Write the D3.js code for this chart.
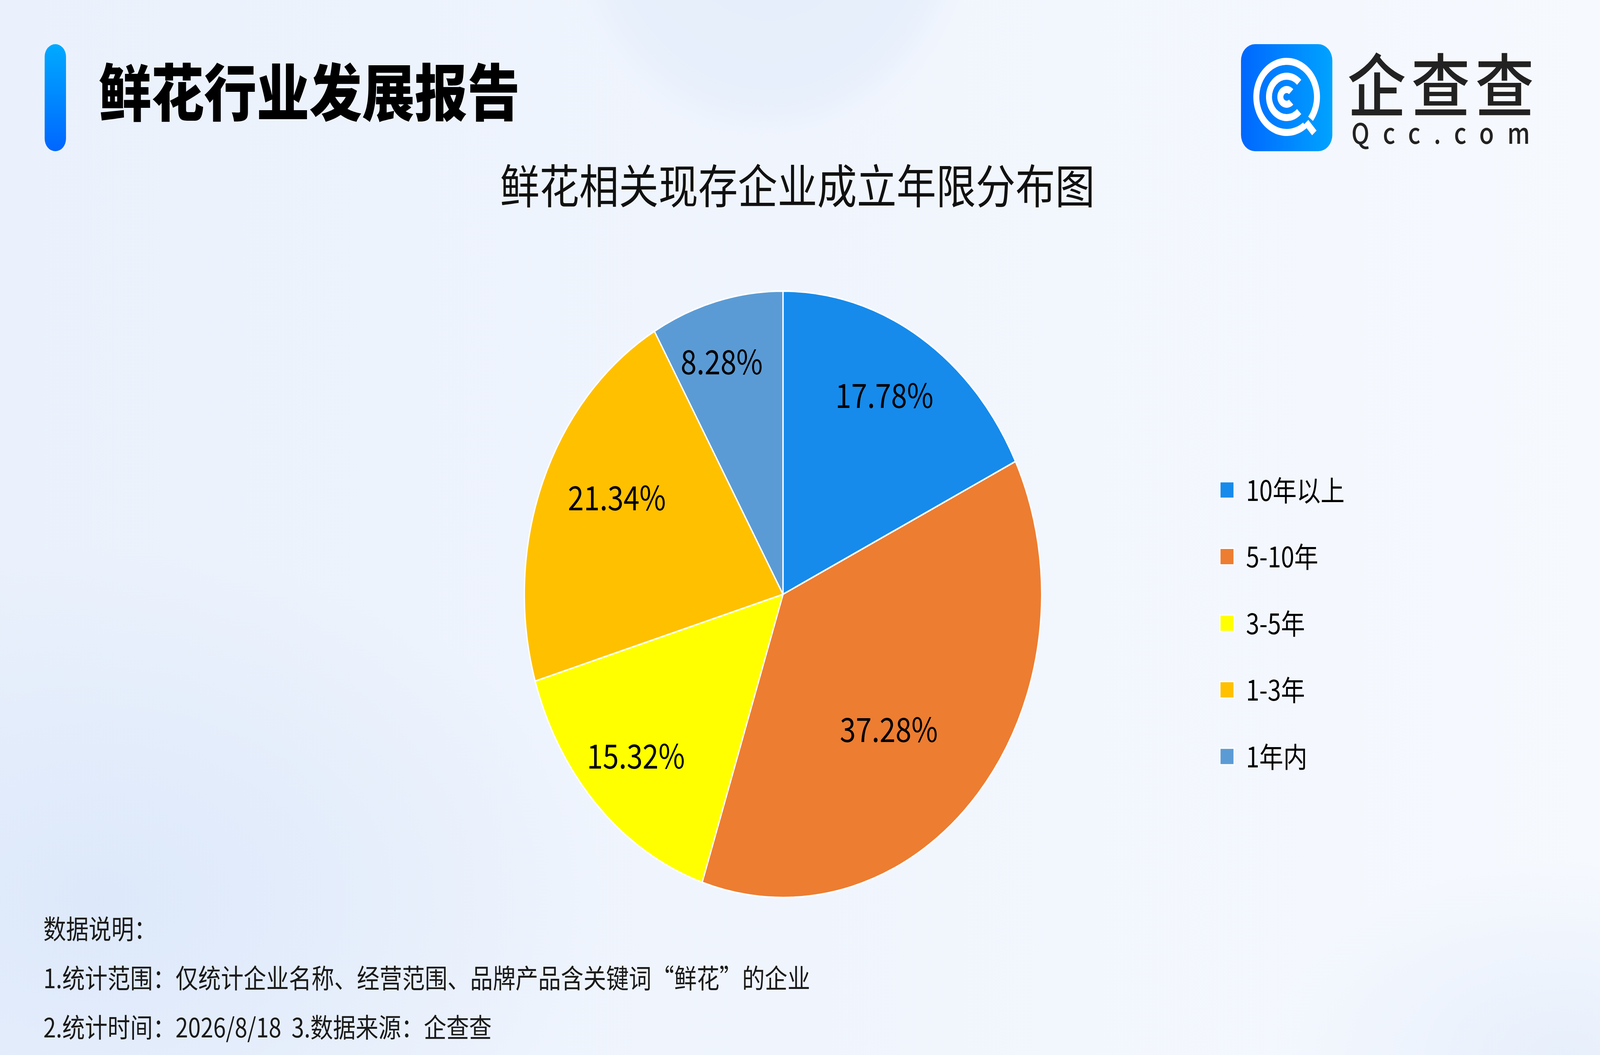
<!DOCTYPE html>
<html>
<head>
<meta charset="utf-8">
<script src="https://cdn.jsdelivr.net/npm/d3@7"></script>
<style>
  html, body { margin: 0; padding: 0; background: #f1f5fd; overflow: hidden; width: 100%; height: 100%; }
  svg { display: block; width: 100vw; height: 100vh; }
  text { font-family: "Noto Sans CJK SC", "Noto Sans", sans-serif; white-space: pre; }
</style>
</head>
<body>
<div id="chart"></div>
<script>
// data
var categories = ['10年以上', '5-10年', '3-5年', '1-3年', '1年内'];
var shares = [17.78, 37.28, 15.32, 21.34, 8.28];
var colours = ['#168beb', '#ed7d31', '#ffff00', '#ffc000', '#5b9bd5'];
// where each % label sits: part of the radius, and turn (deg) off the slice middle
var labelPos = [0.77, 0.60, 0.775, 0.72, 0.81];
var labelTurn = [-1.4, 5.9, 1.4, 5.1, -2.1];

var notes = [
  '数据说明：',
  '1.统计范围：仅统计企业名称、经营范围、品牌产品含关键词“鲜花”的企业',
  '2.统计时间：2026/8/18\u00a0\u00a03.数据来源：企查查'
];

var W = 4800, H = 2700;

// the drawing is laid out on a 4800x2700 board and stretched to the window
var svg = d3.select('#chart').append('svg')
    .attr('viewBox', '0 0 ' + W + ' ' + H)
    .attr('preserveAspectRatio', 'none');

var defs = svg.append('defs');

// background
var bg = defs.append('linearGradient').attr('id', 'bg')
    .attr('x1', 0).attr('y1', 0).attr('x2', 1).attr('y2', 0);
bg.append('stop').attr('offset', 0).attr('stop-color', '#eaf1fc');
bg.append('stop').attr('offset', 1).attr('stop-color', '#f6f9fe');

var blob = defs.append('radialGradient').attr('id', 'blob');
blob.append('stop').attr('offset', 0).attr('stop-color', '#dbe7fa').attr('stop-opacity', 0.9);
blob.append('stop').attr('offset', 1).attr('stop-color', '#dbe7fa').attr('stop-opacity', 0);

var disc = defs.append('radialGradient').attr('id', 'disc');
disc.append('stop').attr('offset', 0).attr('stop-color', '#e4edfb');
disc.append('stop').attr('offset', 0.85).attr('stop-color', '#e8f0fc');
disc.append('stop').attr('offset', 1).attr('stop-color', '#eef3fd').attr('stop-opacity', 0);

defs.append('filter').attr('id', 'soft')
    .attr('x', '-20%').attr('y', '-20%').attr('width', '140%').attr('height', '140%')
  .append('feGaussianBlur').attr('stdDeviation', 25);

svg.append('rect').attr('width', W).attr('height', H).attr('fill', 'url(#bg)');
svg.append('ellipse')
    .attr('cx', 300).attr('cy', 2300).attr('rx', 1500).attr('ry', 900)
    .attr('fill', 'url(#blob)');
svg.append('ellipse')
    .attr('cx', 4700).attr('cy', 2700).attr('rx', 900).attr('ry', 500)
    .attr('fill', 'url(#blob)').attr('opacity', 0.6);
svg.append('circle')
    .attr('cx', 2307).attr('cy', -260).attr('r', 630)
    .attr('fill', 'url(#disc)')
    .attr('filter', 'url(#soft)');

// header bar + title
var barGrad = defs.append('linearGradient').attr('id', 'bar')
    .attr('x1', 0).attr('y1', 0).attr('x2', 0).attr('y2', 1);
barGrad.append('stop').attr('offset', 0).attr('stop-color', '#00aaff');
barGrad.append('stop').attr('offset', 1).attr('stop-color', '#0066ff');

svg.append('rect')
    .attr('x', 134).attr('y', 113)
    .attr('width', 64).attr('height', 274)
    .attr('rx', 32)
    .attr('fill', 'url(#bar)');

svg.append('text')
    .attr('x', 296).attr('y', 227)
    .attr('dominant-baseline', 'central')
    .attr('font-size', 158)
    .attr('font-weight', 900)
    .attr('fill', '#000')
    .text('鲜花行业发展报告');

// logo
var logo = svg.append('g').attr('transform', 'translate(3723,113)');
var logoGrad = defs.append('linearGradient').attr('id', 'logo')
    .attr('x1', 0).attr('y1', 0).attr('x2', 1).attr('y2', 0);
logoGrad.append('stop').attr('offset', 0).attr('stop-color', '#0067ff');
logoGrad.append('stop').attr('offset', 1).attr('stop-color', '#00a3ff');

logo.append('rect')
    .attr('width', 274).attr('height', 274).attr('rx', 42)
    .attr('fill', 'url(#logo)');

var rad = Math.PI / 180;
var rings = [
  { r0: 82, r1: 100, a0: 143, a1: 488 },
  { r0: 44, r1: 62, a0: 135, a1: 405 },
  { r0: 10, r1: 28, a0: 135, a1: 405 }
];
var ringArc = d3.arc();
logo.append('g').attr('transform', 'translate(137,135)')
  .selectAll('path')
  .data(rings)
  .join('path')
    .attr('d', function(d) {
      return ringArc({ innerRadius: d.r0, outerRadius: d.r1,
                       startAngle: d.a0 * rad, endAngle: d.a1 * rad });
    })
    .attr('fill', '#fff');
// tail of the Q
logo.append('line')
    .attr('x1', 137 + 87 * Math.sin(138 * rad)).attr('y1', 135 - 87 * Math.cos(138 * rad))
    .attr('x2', 137 + 124 * Math.sin(138 * rad)).attr('y2', 135 - 124 * Math.cos(138 * rad))
    .attr('stroke', '#fff').attr('stroke-width', 18);

svg.append('text')
    .attr('x', 4042).attr('y', 208)
    .attr('dominant-baseline', 'central')
    .attr('font-size', 176)
    .attr('font-weight', 500)
    .attr('fill', '#222')
    .attr('textLength', 560)
    .text('企查查');

svg.append('text')
    .attr('x', 4054).attr('y', 368)
    .attr('font-family', 'DejaVu Sans, sans-serif')
    .attr('font-size', 72)
    .attr('font-weight', 500)
    .attr('fill', '#222')
    .attr('textLength', 536)
    .attr('lengthAdjust', 'spacing')
    .text('Qcc.com');

// chart title
svg.append('text')
    .attr('x', 2392).attr('y', 469)
    .attr('text-anchor', 'middle')
    .attr('dominant-baseline', 'central')
    .attr('font-size', 119)
    .attr('fill', '#111')
    .text('鲜花相关现存企业成立年限分布图');

// pie
var cx = 2349, cy = 1521, R = 776;

var pie = d3.pie().sort(null).value(function(d) { return d; });
var arcs = pie(shares);
var arc = d3.arc().innerRadius(0).outerRadius(R);

var g = svg.append('g').attr('transform', 'translate(' + cx + ',' + cy + ')');

g.selectAll('path')
  .data(arcs)
  .join('path')
    .attr('d', arc)
    .attr('fill', function(d, i) { return colours[i]; })
    .attr('stroke', '#fff')
    .attr('stroke-width', 4)
    .attr('stroke-linejoin', 'round');

g.selectAll('text')
  .data(arcs)
  .join('text')
    .attr('transform', function(d, i) {
      var a = (d.startAngle + d.endAngle) / 2 + labelTurn[i] * rad;
      var r = R * labelPos[i];
      return 'translate(' + (r * Math.sin(a)) + ',' + (-r * Math.cos(a)) + ')';
    })
    .attr('text-anchor', 'middle')
    .attr('dominant-baseline', 'central')
    .attr('font-size', 86)
    .attr('fill', '#000')
    .text(function(d) { return d.data.toFixed(2) + '%'; });

// legend
var legend = svg.append('g').attr('transform', 'translate(3660,1252)');
var rows = legend.selectAll('g')
  .data(categories)
  .join('g')
    .attr('transform', function(d, i) { return 'translate(0,' + (i * 170.5) + ')'; });

rows.append('rect')
    .attr('x', 0).attr('y', -19)
    .attr('width', 42).attr('height', 42)
    .attr('fill', function(d, i) { return colours[i]; })
    .attr('stroke', '#fff')
    .attr('stroke-width', 3);

rows.append('text')
    .attr('x', 78).attr('y', -2)
    .attr('dominant-baseline', 'central')
    .attr('font-size', 72)
    .attr('fill', '#000')
    .text(function(d) { return d; });

// notes at the bottom
svg.append('g').selectAll('text')
  .data(notes)
  .join('text')
    .attr('x', 130)
    .attr('y', function(d, i) { return 2373 + i * 126; })
    .attr('dominant-baseline', 'central')
    .attr('font-size', 68)
    .attr('fill', '#1a1a1a')
    .text(function(d) { return d; });
</script>
</body>
</html>
